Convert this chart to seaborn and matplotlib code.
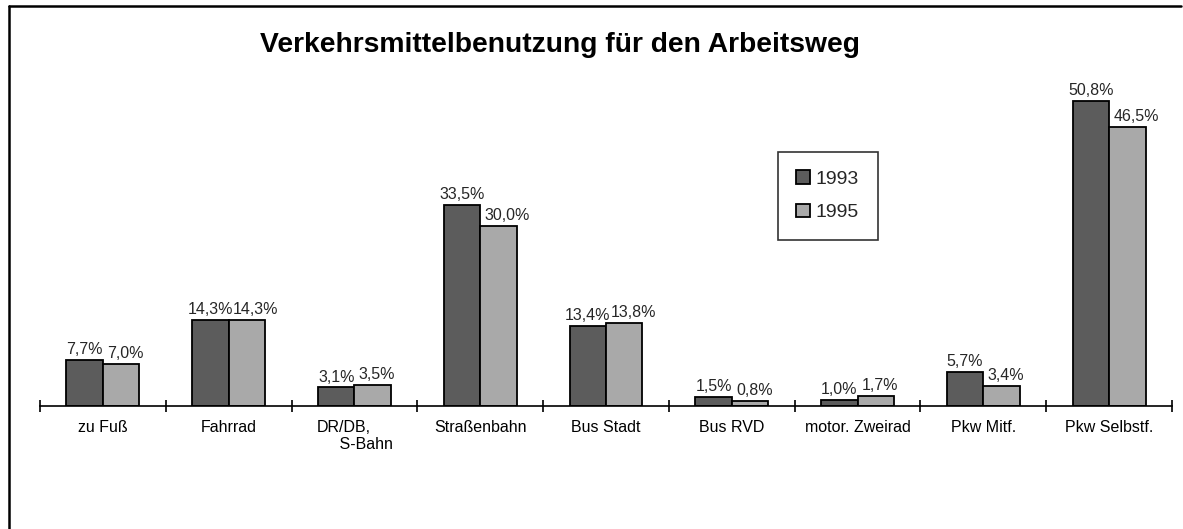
import matplotlib
matplotlib.use("Agg")
import matplotlib.pyplot as plt
import seaborn as sns
import pandas as pd
from matplotlib.ticker import FixedLocator

categories = ["zu Fuß", "Fahrrad", "DR/DB,\n     S-Bahn", "Straßenbahn", "Bus Stadt",
              "Bus RVD", "motor. Zweirad", "Pkw Mitf.", "Pkw Selbstf."]
years = ["1993", "1995"]
values_1993 = [7.7, 14.3, 3.1, 33.5, 13.4, 1.5, 1.0, 5.7, 50.8]
values_1995 = [7.0, 14.3, 3.5, 30.0, 13.8, 0.8, 1.7, 3.4, 46.5]
title = "Verkehrsmittelbenutzung für den Arbeitsweg"

df = pd.DataFrame({
    "Kategorie": categories * 2,
    "Jahr": [years[0]] * len(categories) + [years[1]] * len(categories),
    "Wert": values_1993 + values_1995,
})

sns.set_theme(style="white")
plt.rcParams["font.family"] = ["Liberation Sans", "DejaVu Sans"]

fig = plt.figure(figsize=(11.83, 5.29), dpi=100)
# outer frame lines (left and top)
fig.add_artist(plt.Line2D([9/1183, 9/1183], [0, 1 - 6/529], color="black", lw=1.8, transform=fig.transFigure))
fig.add_artist(plt.Line2D([9/1183, 1 - 2/1183], [1 - 6/529, 1 - 6/529], color="black", lw=1.8, transform=fig.transFigure))

ax = fig.add_axes([40/1183, 123/529, (1172-40)/1183, 330/529])
palette = {"1993": "#5c5c5c", "1995": "#a9a9a9"}
sns.barplot(data=df, x="Kategorie", y="Wert", hue="Jahr", palette=palette,
            width=0.58, edgecolor="black", linewidth=1.3, ax=ax, saturation=1)

for i, cont in enumerate(ax.containers):
    labs = ax.bar_label(cont, labels=[f"{v:.1f}%".replace(".", ",") for v in cont.datavalues],
                        padding=2, fontsize=11.5)
    if i == 1:
        for t in labs:
            t.set_ha("left")
            t.xyann = (-10.0, t.xyann[1])

ax.set_xlim(-0.5, len(categories) - 0.5)
ax.set_ylim(0, 330/6.0)
for s in ["top", "right", "left"]:
    ax.spines[s].set_visible(False)
ax.spines["bottom"].set_color("black")
ax.spines["bottom"].set_linewidth(1.2)
ax.set_yticks([])
ax.set_xlabel("")
ax.set_ylabel("")
ax.xaxis.set_minor_locator(FixedLocator([i - 0.5 for i in range(len(categories) + 1)]))
ax.tick_params(axis="x", which="minor", bottom=True, direction="inout", length=9, width=1.2, color="black")
ax.tick_params(axis="x", which="major", bottom=False, length=0, pad=10, labelsize=11.5, colors="black")
for lab in ax.get_xticklabels():
    lab.set_verticalalignment("top")
    if "DR/DB" in lab.get_text():
        lab.set_multialignment("left")

leg = ax.legend(loc="upper left", bbox_to_anchor=(778/1183, 1 - 152/529),
                bbox_transform=fig.transFigure, frameon=True, fancybox=False,
                edgecolor="black", fontsize=14, handlelength=0.7, handleheight=0.7,
                handletextpad=0.3, labelspacing=0.8, borderpad=0.95, borderaxespad=0,
                shadow=False)
leg.get_frame().set_linewidth(1.2)
leg.set_title(None)

fig.text(560/1183, 1 - 45/529, title, ha="center", va="center",
         fontsize=20.3, fontweight="bold", color="black")

fig.savefig("out.png", dpi=100)
